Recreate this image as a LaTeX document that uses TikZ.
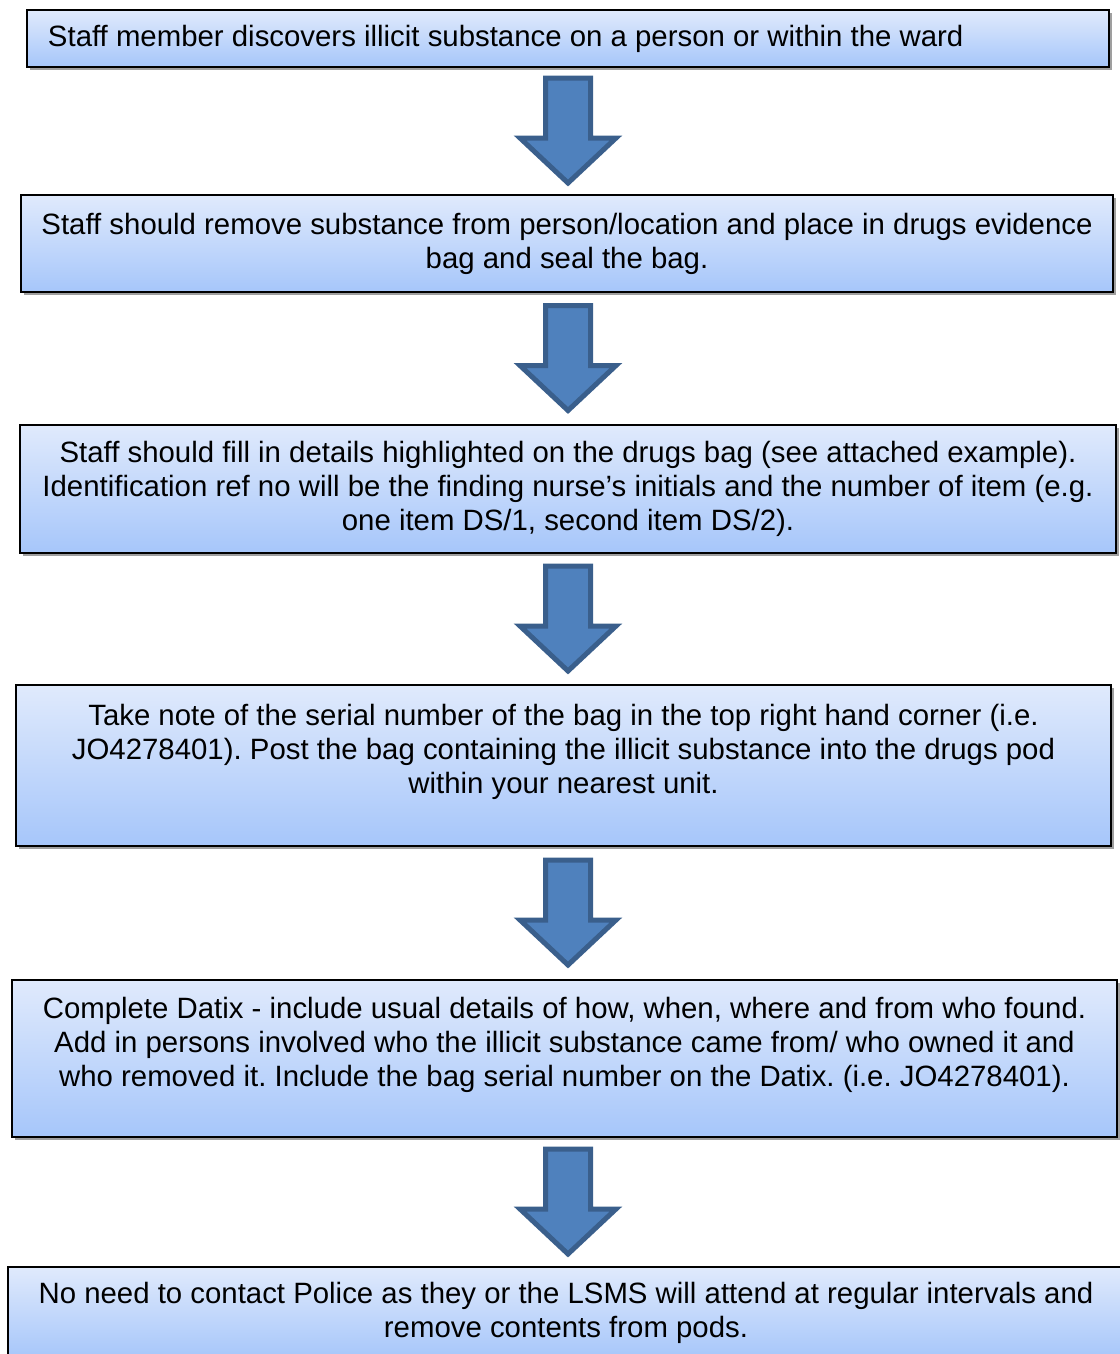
\documentclass[tikz,border=0pt]{standalone}
\usepackage{fontspec}
\setmainfont{Liberation Sans}
\usetikzlibrary{calc,shadows}
\definecolor{boxtop}{HTML}{E0EAFC}
\definecolor{boxbot}{HTML}{A6C6FA}
\definecolor{arrfill}{HTML}{4F81BD}
\definecolor{arrline}{HTML}{3A5F8C}
\frenchspacing

\begin{document}
\begin{tikzpicture}[x=0.4pt, y=-0.4pt,
    stepbox/.style={rectangle, draw=black, line width=0.8pt, inner sep=0pt,
        top color=boxtop, bottom color=boxbot, align=center,
        font=\fontsize{11.75}{13.6}\selectfont,
        drop shadow={shadow xshift=1.2pt, shadow yshift=-1.2pt, fill=gray!75, opacity=1}},
    blockarrow/.pic={
        \draw[fill=arrfill, draw=arrline, line width=2pt, line join=miter]
            (-22.5,-53) -- (22.5,-53) -- (22.5,7) -- (48,7) -- (0,52)
            -- (-48,7) -- (-22.5,7) -- cycle;}]
    \useasboundingbox (0,0) rectangle (1120,1354);
    \clip (0,0) rectangle (1120,1354);
    \node [stepbox, minimum width=432.8pt, minimum height=22.8pt,
        text width=416pt, inner xsep=8.4pt, align=flush left] (s1) at (568,38.5)
        {Staff member discovers illicit substance on a person or within the ward};
    \node [stepbox, minimum width=436.8pt, minimum height=38.8pt] (s2) at (567,243.5)
        {Staff should remove substance from person/location and place in drugs evidence\\
         bag and seal the bag.};
    \node [stepbox, minimum width=438.4pt, minimum height=51.2pt] (s3) at (568,489)
        {Staff should fill in details highlighted on the drugs bag (see attached example).\\
         Identification ref no will be the finding nurse’s initials and the number of item (e.g.\\
         one item DS/1, second item DS/2).};
    \node [stepbox, minimum width=438pt, minimum height=64.4pt] (s4) at (563.5,765.5)
        {Take note of the serial number of the bag in the top right hand corner (i.e.\\
         JO4278401). Post the bag containing the illicit substance into the drugs pod\\
         within your nearest unit.\\ \mbox{}};
    \node [stepbox, minimum width=442pt, minimum height=62.8pt] (s5) at (564.5,1058.5)
        {Complete Datix - include usual details of how, when, where and from who found.\\
         Add in persons involved who the illicit substance came from/ who owned it and\\
         who removed it. Include the bag serial number on the Datix. (i.e. JO4278401).\\ \mbox{}};
    \node [stepbox, minimum width=446.4pt, minimum height=36.8pt] (s6) at (566,1313)
        {No need to contact Police as they or the LSMS will attend at regular intervals and\\
         remove contents from pods.};
    \foreach \a/\b in {s1/s2,s2/s3,s3/s4,s4/s5,s5/s6} {
        \path ($(\a.south)!.5!(\b.north)$) coordinate (m);
        \pic at (m -| s1) {blockarrow};
    }
\end{tikzpicture}
\end{document}
